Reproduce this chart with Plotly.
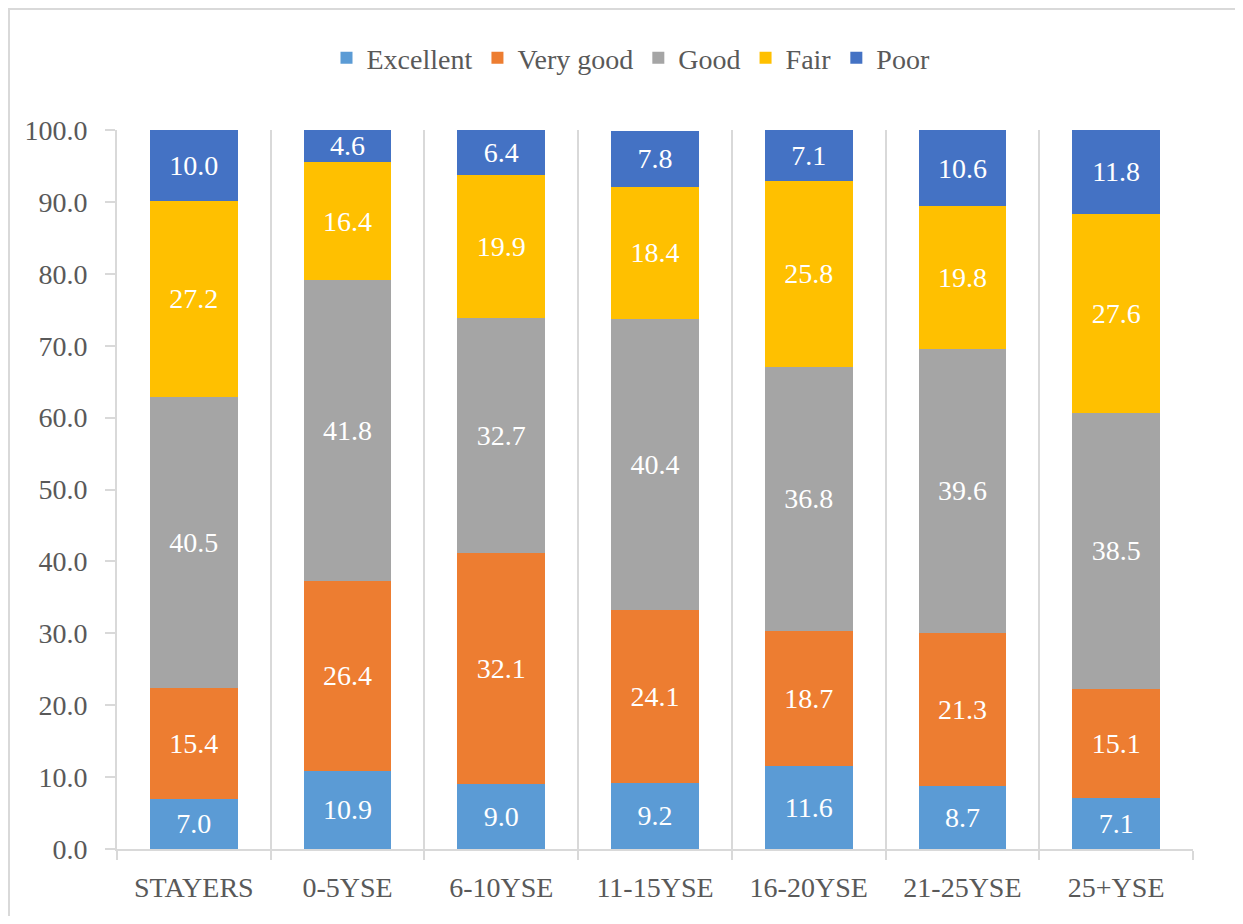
import plotly.graph_objects as go

categories = ["STAYERS", "0-5YSE", "6-10YSE", "11-15YSE", "16-20YSE", "21-25YSE", "25+YSE"]
excellent = [7.0, 10.9, 9.0, 9.2, 11.6, 8.7, 7.1]
very_good = [15.4, 26.4, 32.1, 24.1, 18.7, 21.3, 15.1]
good = [40.5, 41.8, 32.7, 40.4, 36.8, 39.6, 38.5]
fair = [27.2, 16.4, 19.9, 18.4, 25.8, 19.8, 27.6]
poor = [10.0, 4.6, 6.4, 7.8, 7.1, 10.6, 11.8]
y_ticks = [0, 10, 20, 30, 40, 50, 60, 70, 80, 90, 100]

series = [
    ("Excellent", excellent, "#5B9BD5"),
    ("Very good", very_good, "#ED7D31"),
    ("Good", good, "#A5A5A5"),
    ("Fair", fair, "#FFC000"),
    ("Poor", poor, "#4472C4"),
]

FONT = "Liberation Serif"
GRAY = "#595959"
LINE = "#D9D9D9"

fig = go.Figure()
for name, vals, color in series:
    fig.add_trace(go.Bar(
        name=name, x=categories, y=vals,
        marker=dict(color=color, line=dict(width=0)),
        texttemplate="%{y:.1f}", textposition="inside",
        insidetextanchor="middle",
        textfont=dict(family=FONT, size=28, color="white"),
    ))

# page body has an 8px margin; figure sized/placed to compensate
W, H = 1227, 908
L, R, T, B = 109, 42, 122, 67
pw, ph = W - L - R, H - T - B

def px_x(px):
    return (px - L) / pw

def px_y(py):
    return (H - B - py) / ph

fig.update_layout(
    width=W, height=H,
    barmode="stack", bargap=0.43,
    plot_bgcolor="white", paper_bgcolor="white",
    margin=dict(l=L, r=R, t=T, b=B),
    font=dict(family=FONT, color=GRAY),
    uniformtext=dict(minsize=28, mode="show"),
    legend=dict(
        orientation="h", xref="container", yref="container",
        x=623 / W, xanchor="center", y=1 - 50 / H, yanchor="middle",
        font=dict(family=FONT, size=28, color=GRAY),
        traceorder="normal", itemwidth=30,
    ),
    xaxis=dict(
        type="category", tickson="boundaries",
        showgrid=True, gridcolor=LINE, gridwidth=2,
        showline=True, linecolor=LINE, linewidth=2,
        ticks="outside", ticklen=9, tickcolor=LINE, tickwidth=2,
        ticklabelstandoff=12,
        tickfont=dict(family=FONT, size=28, color=GRAY),
    ),
    yaxis=dict(
        range=[0, 100], tickvals=y_ticks,
        ticktext=[f"{v:.1f}" for v in y_ticks],
        showgrid=False, zeroline=False,
        showline=True, linecolor=LINE, linewidth=2,
        ticks="outside", ticklen=10, tickcolor=LINE, tickwidth=2,
        ticklabelstandoff=12,
        tickfont=dict(family=FONT, size=28, color=GRAY),
    ),
    shapes=[dict(
        type="rect", xref="paper", yref="paper",
        x0=px_x(1), x1=px_x(W + 10), y0=px_y(H + 10), y1=px_y(1),
        line=dict(color=LINE, width=2), fillcolor="rgba(0,0,0,0)",
        layer="below",
    )],
)

fig.write_html("out.html")
